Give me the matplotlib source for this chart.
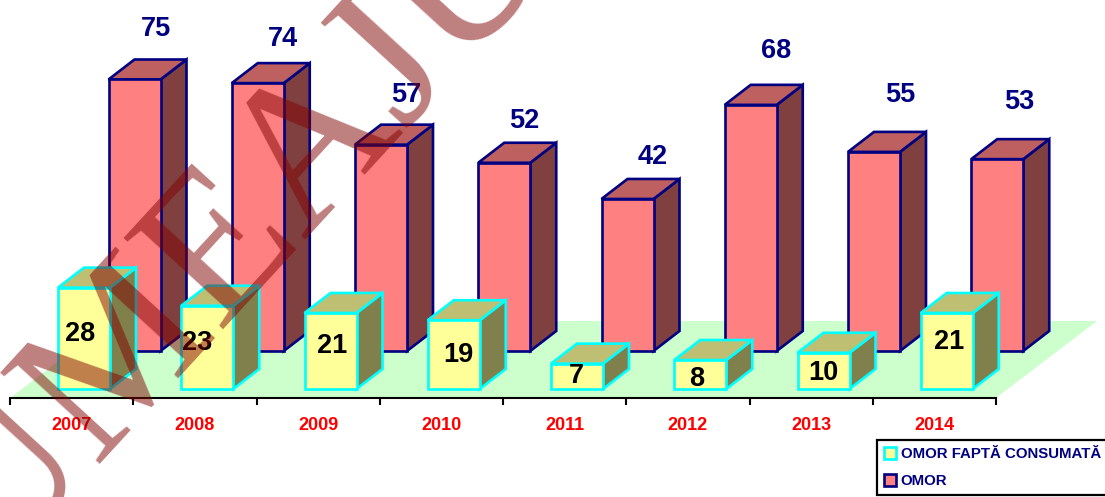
import matplotlib
matplotlib.use("Agg")
import matplotlib.pyplot as plt
from matplotlib.patches import Polygon, Patch

years = ["2007", "2008", "2009", "2010", "2011", "2012", "2013", "2014"]
omor = [75, 74, 57, 52, 42, 68, 55, 53]
omor_consumat = [28, 23, 21, 19, 7, 8, 10, 21]
legend_names = ["OMOR FAPTĂ CONSUMATĂ", "OMOR"]
watermark = "UMEAJU"

plt.rcParams["font.family"] = ["Liberation Sans", "DejaVu Sans"]

# one category = 123.25 px, one case = 3.62 px
XS = 123.25
YS = 3.62
fig = plt.figure(figsize=(11.05, 4.97), dpi=100)
ax = fig.add_axes([0, 0, 1, 1])
ax.set_xlim(-10 / XS, 1095 / XS)
ax.set_ylim(-108 / YS, 389 / YS)
ax.patch.set_alpha(0)

bar_w = 52 / XS
dep_x = 26 / XS
dep_y = 20 / YS
front_left = 48 / XS     # from tick to the front bar
back_left = 98.5 / XS
back_base = 38 / YS


def box(x, base, val, face, side, top, edge, z):
    x2 = x + bar_w
    y = base + val
    ax.add_patch(Polygon([(x2, base), (x2 + dep_x, base + dep_y), (x2 + dep_x, y + dep_y), (x2, y)],
                         fc=side, ec=edge, lw=1.9, joinstyle="miter", zorder=z))
    ax.add_patch(Polygon([(x, y), (x + dep_x, y + dep_y), (x2 + dep_x, y + dep_y), (x2, y)],
                         fc=top, ec=edge, lw=1.9, joinstyle="miter", zorder=z))
    ax.add_patch(Polygon([(x, base), (x2, base), (x2, y), (x, y)],
                         fc=face, ec=edge, lw=1.9, joinstyle="miter", zorder=z))


# floor
floor_low = -9 / YS
floor_high = 68 / YS
floor_shift = 101 / XS
ax.add_patch(Polygon([(0, floor_low), (8, floor_low), (8 + floor_shift, floor_high), (floor_shift, floor_high)],
                     fc="#CCFFCC", ec="none", zorder=1))

for i in range(len(years)):
    box(i + back_left, back_base, omor[i], "#FF8080", "#804040", "#BF6060", "#000080", 2)
for i in range(len(years)):
    box(i + front_left, 0, omor_consumat[i], "#FFFF99", "#80804D", "#BFBF73", "#00FFFF", 3)

# label shifts in px, they are not regular in the picture
back_dx = [47, 51, 51, 46, 51, 51, 52, 48]
back_dy = [30, 24, 30, 22, 22, 34, 37, 37]
front_dx = [22, 16, 28, 31, 25, 22, 26, 28]
front_dy = [-46, -37, -33, -35, -12, -19, -20, -29]
for i in range(len(years)):
    x = i + back_left
    y = back_base + omor[i] + dep_y
    ax.annotate(str(omor[i]), (x, y), xytext=(back_dx[i] * 0.72, back_dy[i] * 0.72), textcoords="offset points",
                ha="center", va="center", color="#000080", fontsize=19.5, fontweight="bold", zorder=4)
    x = i + front_left
    ax.annotate(str(omor_consumat[i]), (x, omor_consumat[i]), xytext=(front_dx[i] * 0.72, front_dy[i] * 0.72),
                textcoords="offset points", ha="center", va="center", color="black", fontsize=19.5,
                fontweight="bold", zorder=4)

# axis
for s in ["top", "left", "right"]:
    ax.spines[s].set_visible(False)
ax.spines["bottom"].set_position(("data", floor_low))
ax.spines["bottom"].set_bounds(0, 8)
ax.spines["bottom"].set_linewidth(1.5)
ax.spines["bottom"].set_zorder(5)
ax.set_yticks([])
ax.set_xticks(range(len(years) + 1))
ax.set_xticklabels([])
ax.tick_params(axis="x", which="major", length=5, width=1.5, color="black")
ax.set_xticks([i + 0.5 for i in range(len(years))], minor=True)
ax.set_xticklabels(years, minor=True, color="red", fontsize=13, fontweight="bold")
ax.tick_params(axis="x", which="minor", length=0, pad=13.5)

# legend
handles = [Patch(fc="#FFFF99", ec="#00FFFF", lw=1.9), Patch(fc="#FF8080", ec="#000080", lw=1.9)]
leg = ax.legend(handles, legend_names, loc="lower right", bbox_to_anchor=(1.0025, 0.004), fontsize=10.8,
                frameon=True, fancybox=False, edgecolor="black", framealpha=1, labelcolor="#000080",
                handlelength=0.8, handleheight=0.9, handletextpad=0.35, labelspacing=0.85, borderpad=0.45,
                borderaxespad=0)
leg.get_frame().set_linewidth(1.6)
for t in leg.get_texts():
    t.set_fontweight("bold")
leg.set_zorder(6)

# watermark, on top of all
ax.text(-15 / XS, (389 - 574) / YS, watermark, family="Liberation Serif", fontsize=148,
        rotation=47.5, rotation_mode="anchor", ha="left", va="baseline", color="#800000", alpha=0.5,
        zorder=7, clip_on=False)

fig.savefig("out.png", dpi=100)
